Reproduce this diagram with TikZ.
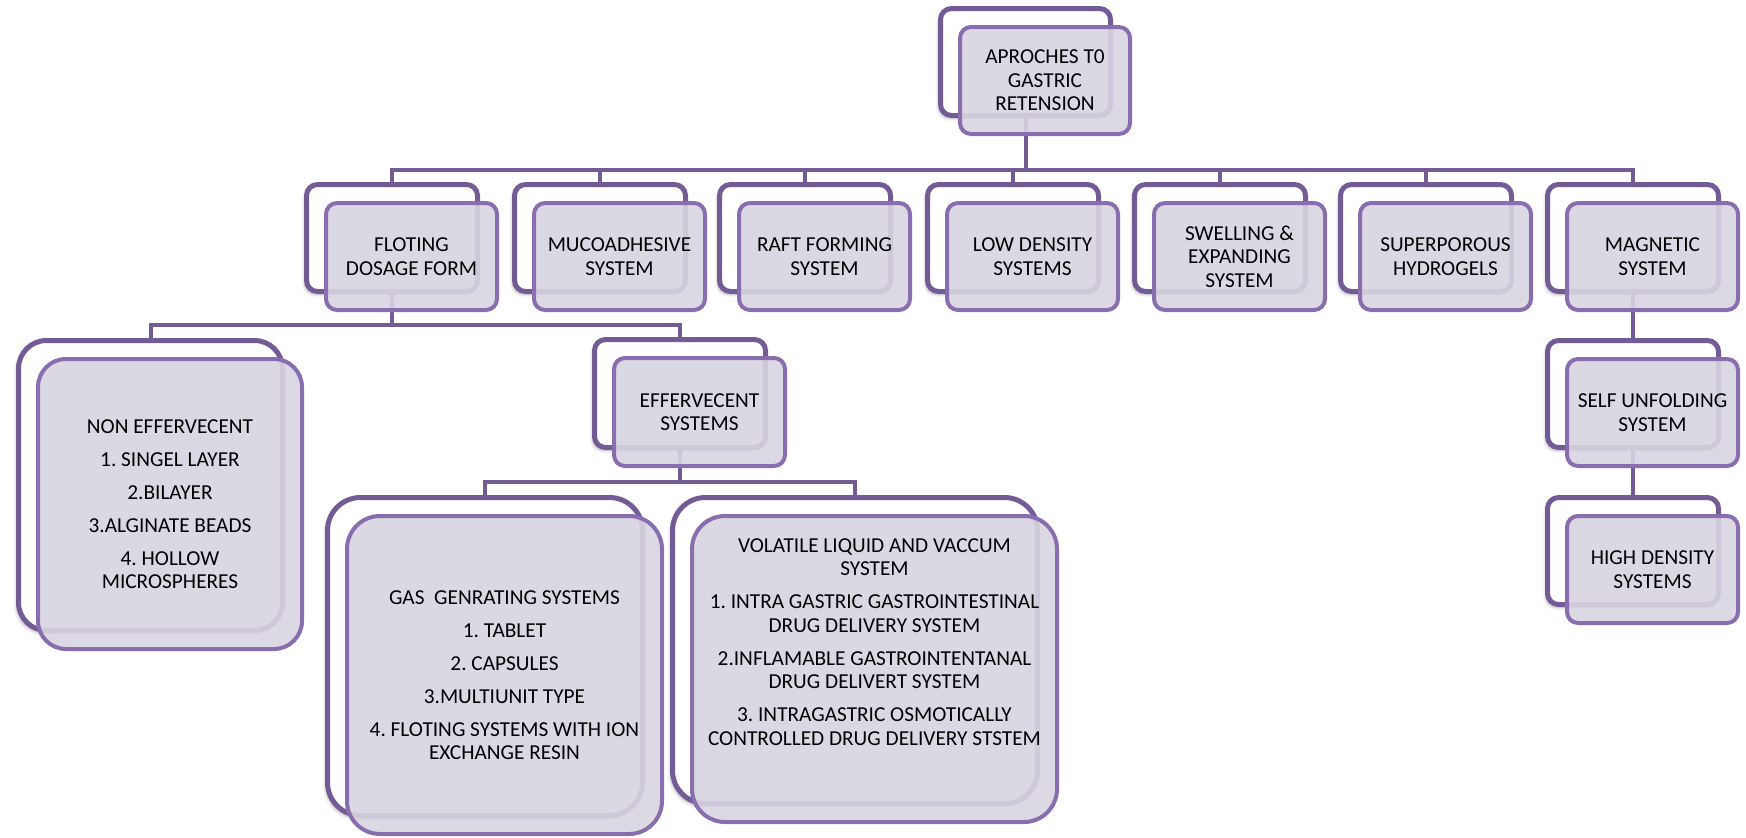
\documentclass[tikz,border=0pt]{standalone}
\usepackage{fontspec}
\setmainfont{Carlito}
\usetikzlibrary{shadows.blur}
\definecolor{bk}{RGB}{115,91,150}
\definecolor{fr}{RGB}{137,110,175}
\definecolor{fl}{RGB}{216,212,225}
\pgfdeclarelayer{bg}
\pgfsetlayers{bg,main}
\tikzset{
  backbox/.style={draw=bk, line width=5pt, fill=white, inner sep=0pt, outer sep=0pt, anchor=north west,
    blur shadow={shadow xshift=-2pt, shadow yshift=-3pt, shadow blur radius=3pt, shadow opacity=30}},
  frontbox/.style={draw=fr, line width=4pt, fill=fl, fill opacity=0.9, draw opacity=1, inner sep=0pt, outer sep=0pt, anchor=north west},
  conn/.style={draw=bk, line width=4pt},
  txt/.style={align=center, font=\fontsize{21.3}{23.5}\selectfont\frenchspacing, text=black, inner sep=0pt}
}
\newcommand\duo[8]{%
  \node[backbox, minimum width=#4pt, minimum height=#5pt, rounded corners=#6pt] (#1B) at (#2,#3) {};
  \node[frontbox, minimum width=#4pt, minimum height=#5pt, rounded corners=#6pt] (#1F) at (#2+19.5,#3+18.5) {};
  \node[txt, yshift=#7pt] (#1T) at (#1F.center) {#8};
}
\begin{document}
\begin{tikzpicture}[x=1pt, y=-1pt]
\useasboundingbox (0,0) rectangle (1746,838);
% top
\duo{top}{940.5}{8.5}{170}{107}{11}{0}{APROCHES T0\\GASTRIC\\RETENSION}
% level 2
\duo{fdf}{306.5}{184.5}{171}{107}{11}{0}{FLOTING\\DOSAGE FORM}
\duo{muc}{514.5}{184.5}{171}{107}{11}{0}{MUCOADHESIVE\\SYSTEM}
\duo{raf}{719.5}{184.5}{171}{107}{11}{0}{RAFT FORMING\\SYSTEM}
\duo{low}{927.5}{184.5}{171}{107}{11}{0}{LOW DENSITY\\SYSTEMS}
\duo{swe}{1134.5}{184.5}{171}{107}{11}{0}{SWELLING \&\\EXPANDING\\SYSTEM}
\duo{sup}{1340.5}{184.5}{171}{107}{11}{0}{SUPERPOROUS\\HYDROGELS}
\duo{mag}{1547.5}{184.5}{171}{107}{11}{0}{MAGNETIC\\SYSTEM}
% magnetic column
\duo{self}{1547.5}{340.5}{171}{107}{11}{0}{SELF UNFOLDING\\SYSTEM}
\duo{high}{1547.5}{497.5}{171}{107}{11}{0}{HIGH DENSITY\\SYSTEMS}
% level 3
\duo{non}{18.5}{340.5}{264}{290}{28}{0}{NON EFFERVECENT\\[9.5pt]1. SINGEL LAYER\\[9.5pt]2.BILAYER\\[9.5pt]3.ALGINATE BEADS\\[9.5pt]4. HOLLOW\\MICROSPHERES}
\duo{eff}{594.5}{339.5}{171}{108}{11}{0}{EFFERVECENT\\SYSTEMS}
% level 4
\duo{gas}{327.5}{497.5}{315}{318}{33}{0}{GAS\ \ GENRATING SYSTEMS\\[9.5pt]1. TABLET\\[9.5pt]2. CAPSULES\\[9.5pt]3.MULTIUNIT TYPE\\[9.5pt]4. FLOTING SYSTEMS WITH ION\\EXCHANGE RESIN}
\duo{vol}{672.5}{497.5}{365}{306}{33}{27}{VOLATILE LIQUID AND VACCUM\\SYSTEM\\[9.5pt]1. INTRA GASTRIC GASTROINTESTINAL\\DRUG DELIVERY SYSTEM\\[9.5pt]2.INFLAMABLE GASTROINTENTANAL\\DRUG DELIVERT SYSTEM\\[9.5pt]3. INTRAGASTRIC OSMOTICALLY\\CONTROLLED DRUG DELIVERY STSTEM}
% connectors
\begin{pgfonlayer}{bg}
\foreach \n in {fdf,muc,raf,low,swe,sup,mag}
  \draw[conn] (topB.south) -- (topB.south |- 0,170) -| (\n B.north);
\draw[conn] (magB.south) -- (selfB.north);
\draw[conn] (selfB.south) -- (highB.north);
\foreach \n in {non,eff}
  \draw[conn] (fdfB.south) -- (fdfB.south |- 0,325) -| (\n B.north);
\foreach \n in {gas,vol}
  \draw[conn] (effB.south) -- (effB.south |- 0,482) -| (\n B.north);
\end{pgfonlayer}
\end{tikzpicture}
\end{document}
